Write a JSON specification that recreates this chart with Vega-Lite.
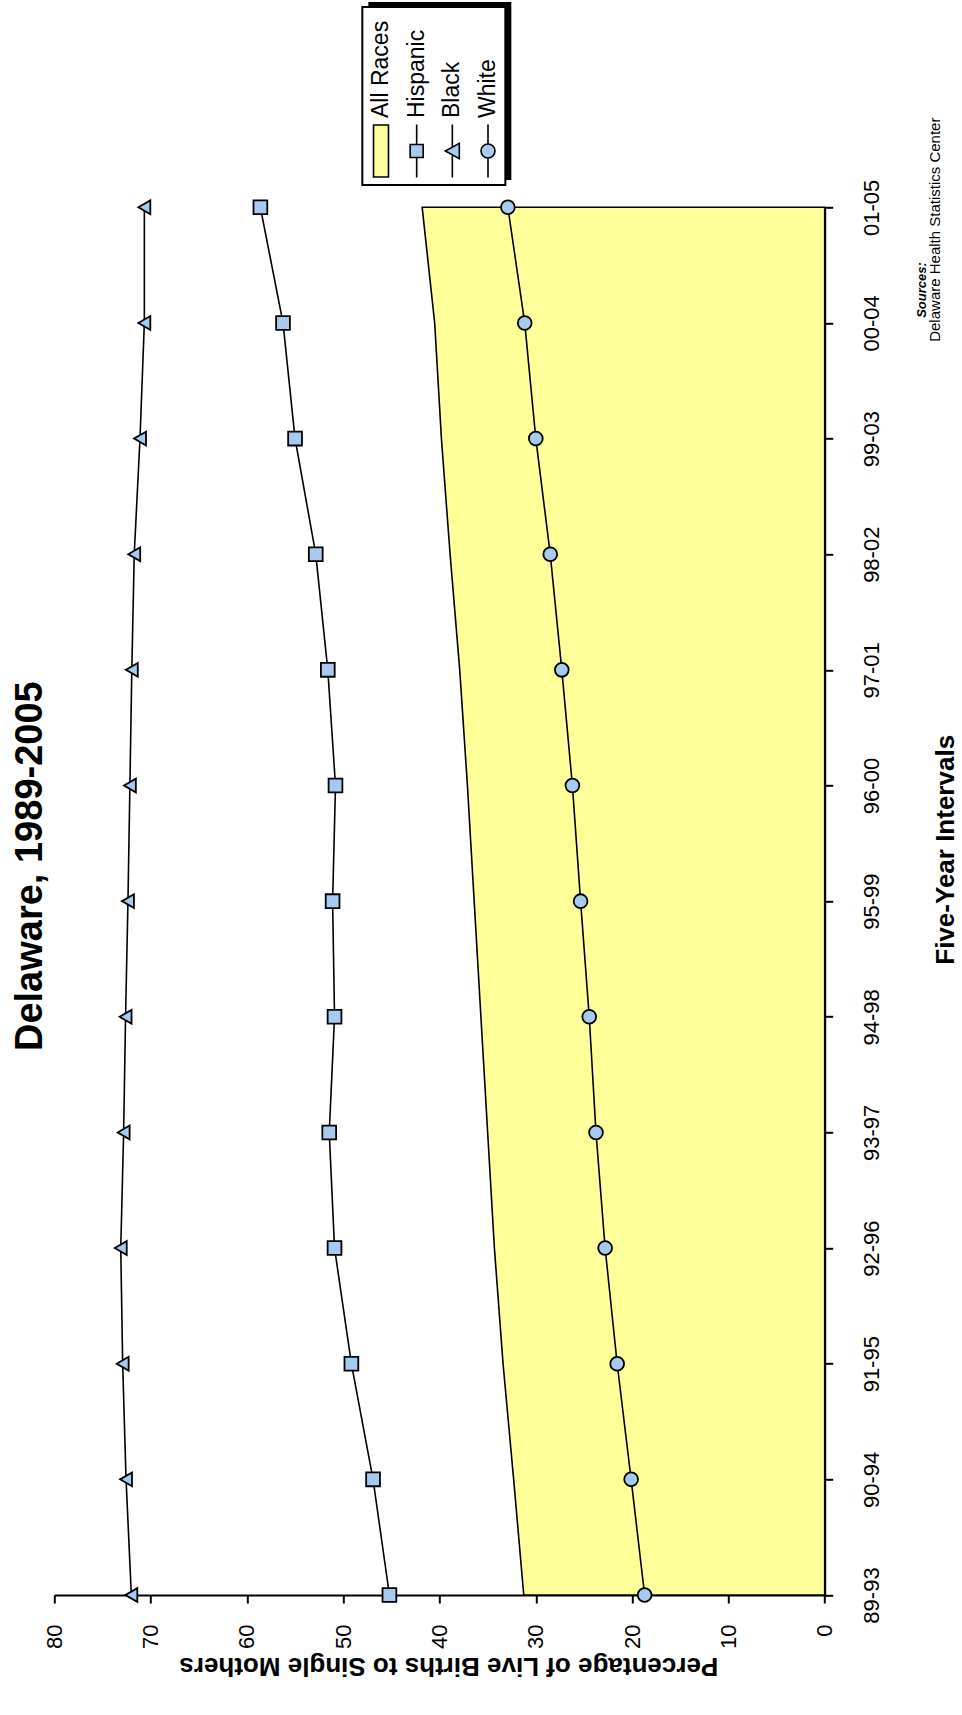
{
  "$schema": "https://vega.github.io/schema/vega-lite/v6.json",
  "width": 770.4,
  "height": 1387.7,
  "autosize": {"type": "none"},
  "padding": {"left": 54.3, "top": 207.3, "right": 137.3, "bottom": 120},
  "background": "white",
  "title": {
    "text": "Delaware, 1989-2005",
    "orient": "left",
    "anchor": "middle",
    "frame": "group",
    "fontSize": 38,
    "fontWeight": "bold",
    "font": "Liberation Sans",
    "color": "black",
    "baseline": "alphabetic",
    "offset": -37,
    "dx": 35
  },
  "layer": [
    {
      "data": {
        "values": [
          {"interval": "89-93", "series": "All Races", "value": 31.25},
          {"interval": "90-94", "series": "All Races", "value": 32.3},
          {"interval": "91-95", "series": "All Races", "value": 33.4},
          {"interval": "92-96", "series": "All Races", "value": 34.3},
          {"interval": "93-97", "series": "All Races", "value": 35.0},
          {"interval": "94-98", "series": "All Races", "value": 35.7},
          {"interval": "95-99", "series": "All Races", "value": 36.4},
          {"interval": "96-00", "series": "All Races", "value": 37.1},
          {"interval": "97-01", "series": "All Races", "value": 37.9},
          {"interval": "98-02", "series": "All Races", "value": 38.9},
          {"interval": "99-03", "series": "All Races", "value": 39.8},
          {"interval": "00-04", "series": "All Races", "value": 40.5},
          {"interval": "01-05", "series": "All Races", "value": 41.8},
          {"interval": "89-93", "series": "Hispanic", "value": 45.2},
          {"interval": "90-94", "series": "Hispanic", "value": 46.9},
          {"interval": "91-95", "series": "Hispanic", "value": 49.15},
          {"interval": "92-96", "series": "Hispanic", "value": 50.9},
          {"interval": "93-97", "series": "Hispanic", "value": 51.45},
          {"interval": "94-98", "series": "Hispanic", "value": 50.9},
          {"interval": "95-99", "series": "Hispanic", "value": 51.1},
          {"interval": "96-00", "series": "Hispanic", "value": 50.8},
          {"interval": "97-01", "series": "Hispanic", "value": 51.6},
          {"interval": "98-02", "series": "Hispanic", "value": 52.85},
          {"interval": "99-03", "series": "Hispanic", "value": 55.0},
          {"interval": "00-04", "series": "Hispanic", "value": 56.25},
          {"interval": "01-05", "series": "Hispanic", "value": 58.6},
          {"interval": "89-93", "series": "Black", "value": 72.0},
          {"interval": "90-94", "series": "Black", "value": 72.55},
          {"interval": "91-95", "series": "Black", "value": 72.9},
          {"interval": "92-96", "series": "Black", "value": 73.1},
          {"interval": "93-97", "series": "Black", "value": 72.8},
          {"interval": "94-98", "series": "Black", "value": 72.6},
          {"interval": "95-99", "series": "Black", "value": 72.35},
          {"interval": "96-00", "series": "Black", "value": 72.15},
          {"interval": "97-01", "series": "Black", "value": 71.95},
          {"interval": "98-02", "series": "Black", "value": 71.7},
          {"interval": "99-03", "series": "Black", "value": 71.1},
          {"interval": "00-04", "series": "Black", "value": 70.65},
          {"interval": "01-05", "series": "Black", "value": 70.65},
          {"interval": "89-93", "series": "White", "value": 18.7},
          {"interval": "90-94", "series": "White", "value": 20.1},
          {"interval": "91-95", "series": "White", "value": 21.55},
          {"interval": "92-96", "series": "White", "value": 22.8},
          {"interval": "93-97", "series": "White", "value": 23.75},
          {"interval": "94-98", "series": "White", "value": 24.45},
          {"interval": "95-99", "series": "White", "value": 25.35},
          {"interval": "96-00", "series": "White", "value": 26.2},
          {"interval": "97-01", "series": "White", "value": 27.3},
          {"interval": "98-02", "series": "White", "value": 28.5},
          {"interval": "99-03", "series": "White", "value": 30.0},
          {"interval": "00-04", "series": "White", "value": 31.15},
          {"interval": "01-05", "series": "White", "value": 32.9}
        ]
      },
      "encoding": {
        "x": {
          "field": "value",
          "type": "quantitative",
          "scale": {"domain": [0, 80], "reverse": true, "nice": false, "zero": true},
          "axis": {
            "values": [0, 10, 20, 30, 40, 50, 60, 70, 80],
            "labelAngle": 270,
            "labelAlign": "right",
            "labelBaseline": "middle",
            "labelPadding": 21,
            "labelFontSize": 22,
            "title": "Percentage of Live Births to Single Mothers",
            "titleFontSize": 26,
            "titleFontWeight": "bold",
            "titleAngle": 180,
            "titleAlign": "center",
            "titleBaseline": "alphabetic",
            "titleX": 394,
            "titleY": 62
          }
        }
      },
      "layer": [
        {
          "transform": [{"filter": "datum.series === 'All Races'"}],
          "mark": {"type": "area", "orient": "horizontal", "fill": "#FFFF99", "stroke": "black", "strokeWidth": 1.6, "opacity": 1},
          "encoding": {
            "y": {
              "field": "interval",
              "type": "ordinal",
              "sort": ["01-05", "00-04", "99-03", "98-02", "97-01", "96-00", "95-99", "94-98", "93-97", "92-96", "91-95", "90-94", "89-93"],
              "scale": {"type": "point", "padding": 0},
              "axis": {
                "orient": "right",
                "labelAngle": 270,
                "labelAlign": "center",
                "labelBaseline": "top",
                "labelPadding": 29,
                "labelFontSize": 22,
                "title": "Five-Year Intervals",
                "titleFontSize": 26,
                "titleFontWeight": "bold",
                "titleAngle": 270,
                "titleAlign": "center",
                "titleBaseline": "alphabetic",
                "titleX": 129,
                "titleY": 642
              }
            }
          }
        },
        {
          "transform": [{"filter": "datum.series !== 'All Races'"}],
          "mark": {"type": "line", "color": "black", "strokeWidth": 1.6},
          "encoding": {
            "y": {
              "field": "interval",
              "type": "ordinal",
              "sort": ["01-05", "00-04", "99-03", "98-02", "97-01", "96-00", "95-99", "94-98", "93-97", "92-96", "91-95", "90-94", "89-93"],
              "scale": {"type": "point", "padding": 0},
              "axis": {
                "orient": "right",
                "domain": false,
                "ticks": false,
                "labels": false,
                "grid": false,
                "title": "Sources:",
                "titleFontSize": 13,
                "titleFontWeight": "bold",
                "titleFontStyle": "italic",
                "titleAngle": 270,
                "titleAlign": "left",
                "titleBaseline": "alphabetic",
                "titleX": 101,
                "titleY": 110
              }
            },
            "detail": {"field": "series", "type": "nominal"}
          }
        },
        {
          "transform": [{"filter": "datum.series !== 'All Races'"}],
          "mark": {"type": "point", "filled": true, "size": 190, "fill": "#A6CAF0", "stroke": "black", "strokeWidth": 1.8, "opacity": 1},
          "encoding": {
            "y": {
              "field": "interval",
              "type": "ordinal",
              "sort": ["01-05", "00-04", "99-03", "98-02", "97-01", "96-00", "95-99", "94-98", "93-97", "92-96", "91-95", "90-94", "89-93"],
              "scale": {"type": "point", "padding": 0},
              "axis": {
                "orient": "right",
                "domain": false,
                "ticks": false,
                "labels": false,
                "grid": false,
                "title": "Delaware Health Statistics Center",
                "titleFontSize": 15,
                "titleFontWeight": "normal",
                "titleAngle": 270,
                "titleAlign": "left",
                "titleBaseline": "alphabetic",
                "titleX": 115,
                "titleY": 134
              }
            },
            "shape": {
              "field": "series",
              "type": "nominal",
              "scale": {"domain": ["Hispanic", "Black", "White"], "range": ["square", "triangle-left", "circle"]},
              "legend": null
            }
          }
        }
      ],
      "resolve": {"axis": {"y": "independent"}}
    },
    {
      "data": {
        "values": [
          {"series": "All Races"},
          {"series": "Hispanic"},
          {"series": "Black"},
          {"series": "White"}
        ]
      },
      "encoding": {
        "x": {
          "field": "series",
          "type": "nominal",
          "scale": {"type": "point", "padding": 0, "domain": ["All Races", "Hispanic", "Black", "White"], "range": [326.7, 433.7]},
          "axis": null
        },
        "y": {
          "field": "series",
          "type": "nominal",
          "scale": {"type": "point", "padding": 0, "domain": ["All Races", "Hispanic", "Black", "White"], "range": [-56.3, -56.3]},
          "axis": null
        }
      },
      "layer": [
        {
          "transform": [{"filter": "datum.series === 'Black'"}],
          "mark": {"type": "point", "shape": "M-1.43,-1.78H1.43V1.78H-1.43Z", "size": 10000, "filled": true, "fill": "black", "strokeWidth": 0, "opacity": 1, "xOffset": -12.5, "yOffset": -60}
        },
        {
          "transform": [{"filter": "datum.series === 'Black'"}],
          "mark": {"type": "point", "shape": "M-1.43,-1.78H1.43V1.78H-1.43Z", "size": 10000, "filled": true, "fill": "white", "stroke": "black", "strokeWidth": 2, "opacity": 1, "xOffset": -18.5, "yOffset": -55}
        },
        {
          "mark": {"type": "point", "filled": true, "size": 196, "stroke": "black", "strokeWidth": 1.6, "opacity": 1},
          "encoding": {
            "shape": {
              "field": "series",
              "type": "nominal",
              "scale": {
                "domain": ["All Races", "Hispanic", "Black", "White"],
                "range": [
                  "M-1.07,-3.71H1.07V3.71H-1.07Z",
                  "M0,-3.79V-0.93M-0.93,-0.93H0.93V0.93H-0.93ZM0,0.93V3.79",
                  "M0,-3.79V-0.55M-1,0L1,-1.1V1.1ZM0,0.55V3.79",
                  "M0,-3.79V-1M1,0A1,1,0,1,1,-1,0A1,1,0,1,1,1,0ZM0,1V3.79"
                ]
              },
              "legend": null
            },
            "fill": {
              "field": "series",
              "type": "nominal",
              "scale": {"domain": ["All Races", "Hispanic", "Black", "White"], "range": ["#FFFF99", "#A6CAF0", "#A6CAF0", "#A6CAF0"]},
              "legend": null
            }
          }
        },
        {
          "mark": {"type": "text", "angle": 270, "align": "left", "baseline": "middle", "dx": 33, "fontSize": 23, "font": "Liberation Sans", "color": "black"},
          "encoding": {
            "text": {"field": "series", "type": "nominal"}
          }
        }
      ]
    }
  ],
  "resolve": {
    "scale": {"x": "independent", "y": "independent", "shape": "independent", "fill": "independent"},
    "axis": {"x": "independent", "y": "independent"}
  },
  "config": {
    "font": "Liberation Sans",
    "view": {"stroke": null},
    "axis": {
      "domainColor": "black", "domainWidth": 2,
      "tickColor": "black", "tickWidth": 2, "tickSize": 8,
      "labelColor": "black", "titleColor": "black", "grid": false,
      "labelFont": "Liberation Sans", "titleFont": "Liberation Sans"
    }
  }
}
